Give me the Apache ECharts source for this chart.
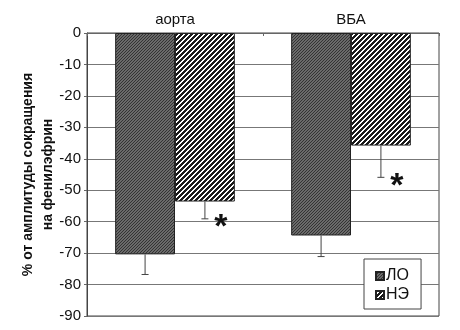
<!DOCTYPE html>
<html>
<head>
<meta charset="utf-8">
<script src="https://cdn.jsdelivr.net/npm/echarts@6/dist/echarts.min.js"></script>
<style>html,body{margin:0;padding:0;background:#fff}#c{width:460px;height:330px}</style>
</head>
<body>
<div id="c"></div>
<script>
const categories = ['аорта', 'ВБА'];
const seriesNames = ['ЛО', 'НЭ'];
const valuesLO = [-70.4, -64.4];
const valuesNE = [-53.6, -35.8];
const errLO = [6.4, 6.7];
const errNE = [5.5, 10.1];
const starsLO = ['', ''];
const starsNE = ['*', '*'];
const yTicks = [0, -10, -20, -30, -40, -50, -60, -70, -80, -90];

function makePattern(kind) {
  const c = document.createElement('canvas');
  if (kind === 'dark') {
    c.width = 3; c.height = 3;
    const g = c.getContext('2d');
    g.fillStyle = '#6a6a6a'; g.fillRect(0, 0, 3, 3);
    g.fillStyle = '#333333';
    for (let i = 0; i < 3; i++) g.fillRect(i, 2 - i, 1, 1);
  } else {
    c.width = 5; c.height = 5;
    const g = c.getContext('2d');
    g.fillStyle = '#ffffff'; g.fillRect(0, 0, 5, 5);
    g.fillStyle = '#1a1a1a';
    for (let i = 0; i < 5; i++) {
      g.fillRect(i, 4 - i, 1, 1);
      g.fillRect((i + 1) % 5, 4 - i, 1, 1);
      g.fillRect((i + 2) % 5, 4 - i, 1, 1);
    }
  }
  return { image: c, repeat: 'repeat' };
}
const patLO = makePattern('dark');
const patNE = makePattern('stripe');

const catGapPct = 32;
function errorSeries(values, errs, stars, idx) {
  return {
    type: 'custom',
    silent: true,
    z: 5,
    data: values.map((v, i) => [i, v, v - errs[i], stars[i]]),
    renderItem: function (params, api) {
      const ci = api.value(0);
      const top = api.coord([ci, api.value(1)]);
      const bot = api.coord([ci, api.value(2)]);
      const band = api.size([1, 0])[0];
      const bw = band * (1 - catGapPct / 100) / 2;
      const x = top[0] + (idx === 0 ? -bw / 2 : bw / 2);
      const children = [
        { type: 'line', shape: { x1: x, y1: top[1], x2: x, y2: bot[1] }, style: { stroke: '#444', lineWidth: 1 } },
        { type: 'line', shape: { x1: x - 3.5, y1: bot[1], x2: x + 3.5, y2: bot[1] }, style: { stroke: '#444', lineWidth: 1 } }
      ];
      const s = api.value(3);
      if (s) {
        children.push({ type: 'text', x: x + 16, y: bot[1] + 9,
          style: { text: s, font: 'bold 34px "Liberation Sans", Arial', fill: '#111', align: 'center', verticalAlign: 'middle' } });
      }
      return { type: 'group', children: children };
    }
  };
}

const chart = echarts.init(document.getElementById('c'), null, { renderer: 'canvas' });
chart.setOption({
  animation: false,
  backgroundColor: '#fff',
  textStyle: { fontFamily: '"Liberation Sans", Arial, sans-serif' },
  grid: { left: 87, right: 21, top: 33, bottom: 14, show: true, borderColor: '#444', borderWidth: 1, backgroundColor: 'transparent' },
  legend: {
    data: seriesNames,
    orient: 'vertical',
    left: 364, top: 259,
    itemWidth: 8, itemHeight: 8,
    itemGap: 3,
    icon: 'rect',
    padding: [9, 12, 6, 11],
    borderColor: '#444', borderWidth: 1,
    backgroundColor: '#fff',
    textStyle: { fontSize: 16, lineHeight: 15, color: '#111', padding: [0, 0, 0, -3] }
  },
  xAxis: {
    type: 'category',
    position: 'top',
    data: categories,
    axisLine: { show: true, lineStyle: { color: '#666' } },
    axisTick: { show: true, inside: true, length: 3, lineStyle: { color: '#666' } },
    axisLabel: { fontSize: 15, color: '#111', margin: 6 },
    splitLine: { show: false }
  },
  yAxis: {
    type: 'value',
    min: -90, max: 0, interval: 10,
    name: '% от амплитуды сокращения\nна фенилэфрин',
    nameLocation: 'middle',
    nameRotate: 90,
    nameGap: 29,
    nameMoveOverlap: false,
    nameTextStyle: { fontSize: 14, fontWeight: 'bold', color: '#111', lineHeight: 20, align: 'center' },
    axisLine: { show: true, lineStyle: { color: '#444' } },
    axisTick: { show: true, length: 3, lineStyle: { color: '#666' } },
    axisLabel: { fontSize: 15, color: '#111', margin: 6, formatter: v => (yTicks.indexOf(v) >= 0 ? String(v) : '') },
    splitLine: { show: true, lineStyle: { color: '#777', width: 1 } }
  },
  series: [
    { name: seriesNames[0], type: 'bar', data: valuesLO, barGap: '0%', barCategoryGap: catGapPct + '%',
      itemStyle: { color: patLO, borderColor: '#222', borderWidth: 1 } },
    { name: seriesNames[1], type: 'bar', data: valuesNE, barGap: '0%', barCategoryGap: catGapPct + '%',
      itemStyle: { color: patNE, borderColor: '#222', borderWidth: 1 } },
    errorSeries(valuesLO, errLO, starsLO, 0),
    errorSeries(valuesNE, errNE, starsNE, 1)
  ]
});
</script>
</body>
</html>
